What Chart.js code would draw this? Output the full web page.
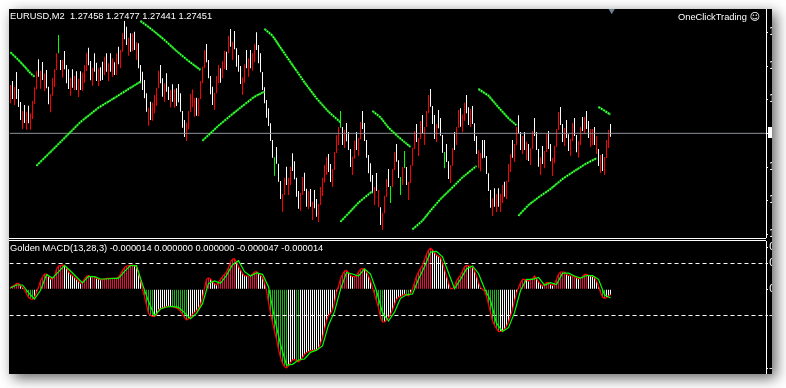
<!DOCTYPE html>
<html lang="en">
  <head>
    <meta charset="UTF-8" />
    <title>EURUSD,M2</title>
    <script src="https://cdn.jsdelivr.net/npm/chart.js"></script>
    <style>
      html, body { margin: 0; background: #fff; overflow: hidden; }
      #terminal {
        position: absolute; left: 9px; top: 9px; width: 763px; height: 365px;
        background: #000; box-shadow: 4px 4px 13px rgba(0, 0, 0, 0.62);
      }
      canvas { position: absolute; left: 0; }
      #mainChart { top: 0; }
      #macdChart { top: 232px; }
      .rule { position: absolute; left: 0; width: 757px; height: 1px; background: #fff; }
      .label { position: absolute; color: #fff; white-space: pre; font: 9.3px "Liberation Sans", sans-serif; line-height: 12px; }
    </style>
  </head>
  <body>
    <div id="terminal">
      <canvas id="mainChart" width="763" height="229"></canvas>
      <div class="rule" style="top: 229px"></div>
      <div class="rule" style="top: 231px"></div>
      <canvas id="macdChart" width="763" height="133"></canvas>
      <div class="label" style="left: 1px; top: 1px">EURUSD,M2  1.27458 1.27477 1.27441 1.27451</div>
      <div class="label" style="left: 669px; top: 2px">OneClickTrading <span style="font: 10px 'DejaVu Sans'">☺</span></div>
      <div class="label" style="left: 1px; top: 233px">Golden MACD(13,28,3) -0.000014 0.000000 0.000000 -0.000047 -0.000014</div>
    </div>

    <script>
      // prices are kept in points above 1.27000 (451 = 1.27451)
      const highs = [
        596,608,591,635,584,545,518,536,516,534, 511,548,589,637,673,639,665,631,641,591,
        568,617,644,691,746,671,671,698,656,643, 618,643,623,637,614,637,633,656,693,708,
        668,648,691,663,646,649,666,681,691,661, 691,676,664,691,711,701,751,788,771,738,
        751,751,756,724,721,656,636,611,571,528, 546,543,566,588,639,656,616,601,631,591,
        581,598,583,586,599,571,518,491,483,518, 569,583,556,558,556,608,651,701,719,671,
        623,591,573,623,656,646,668,698,696,744, 764,726,758,706,686,653,619,658,701,676,
        701,691,718,754,716,691,635,589,551,526, 481,431,379,410,360,308,269,318,351,318,
        351,391,367,318,278,273,320,333,285,279, 284,246,281,254,239,290,318,356,380,389,
        359,344,395,445,470,518,470,461,482,455, 404,381,429,455,437,485,518,482,431,386,
        361,326,290,332,281,229,213,264,314,344, 293,344,395,419,370,320,350,398,350,305,
        356,408,458,479,437,488,506,470,518,566, 584,533,506,479,521,497,446,395,419,367,
        356,406,455,470,521,526,508,543,566,529, 524,533,481,443,400,391,431,431,383,331,
        281,256,286,269,286,269,296,306,308,359, 389,431,419,470,505,455,443,455,426,419,
        406,458,497,455,404,379,413,398,449,458, 419,377,413,464,515,530,479,467,491,448,
        434,482,497,446,428,470,500,500,518,488, 464,464,470,443,404,386,389,380,431,461,479
      ];
      const lows = [
        541,554,536,554,530,491,464,482,462,481, 462,494,539,583,621,585,611,577,586,538,
        514,564,591,641,691,641,618,643,601,584, 564,588,581,581,560,581,579,602,638,655,
        610,594,636,608,593,609,611,626,636,608, 636,621,626,626,658,646,696,733,716,684,
        696,698,701,671,646,601,581,556,516,474, 491,489,511,534,586,601,561,546,576,551,
        529,546,528,533,544,516,468,440,428,463, 514,529,501,504,503,554,601,646,664,616,
        568,536,521,571,601,603,616,644,641,691, 711,671,703,651,636,599,566,603,646,621,
        646,639,664,701,661,634,581,541,498,473, 428,378,324,360,306,254,216,266,296,266,
        296,338,313,261,225,219,267,278,231,224, 231,191,226,201,185,236,263,303,326,335,
        305,290,341,392,416,468,416,407,427,401, 350,326,375,401,383,433,464,428,378,331,
        306,271,236,278,229,176,161,211,260,290, 242,290,341,366,317,266,296,346,296,251,
        302,354,404,425,383,434,452,416,470,512, 531,479,434,425,466,444,393,346,365,314,
        302,354,401,416,468,471,454,489,511,476, 470,479,428,389,346,337,376,378,329,278,
        228,203,231,215,231,215,242,261,254,305, 335,378,365,416,451,401,389,401,371,368,
        356,404,443,401,351,326,359,346,395,404, 367,323,361,411,461,476,425,413,437,398,
        384,428,443,394,378,416,458,449,464,437, 410,416,416,389,353,332,338,326,377,407,441
      ];
      // r = down bar, w = up bar, g = the odd green bars
      const barKinds = [
        "rwrwwwrwrw","rrrrwrwrww","rrrrgwrwww","rwrwrwrrrw","wrwwrwwrwr","wrwrwrrwwr",
        "wrwrwwwwwr","wrrrrwwrww","rwrwwwwwrr","rrrwrrrrww","wwrrrwrrwr","wrwwwwrrwr",
        "wrrwwwwwww","wwgwwwrrwr","rwwwwrrwwr","wrwwrrrrrw","wrrrrgwrww","wrrwrrwwww",
        "wwrwrwrrrw","grrwwgrgwr","rrrwrrwrrr","wwwrwwwgww","rrwrrwrrww","rwwwrrwwww",
        "wrwrwrrwrr","rwrrwwrwrw","rrwwwrwrrw","wrrrrwwrww","rrwwrrwrww","rrwrwrwrrrw"
      ].join("");

      // indicator arcs, [bar, points]
      const arcA = [[0,694],[4,671],[8,645],[10,631],[12,621]];
      const arcB = [[13,354],[21,401],[29,449],[35,485],[44,528],[53,561],[59,584],[65,606]];
      const arcC = [[65,788],[71,761],[77,731],[83,698],[89,668],[95,641]];
      const arcD = [[96,429],[104,474],[110,504],[116,533],[122,561],[127,576]];
      const arcE = [[127,764],[131,744],[135,708],[141,656],[147,604],[153,556],[159,516],[165,484]];
      const arcF = [[165,186],[169,211],[174,243],[180,273],[181,276]];
      const arcG = [[181,518],[185,499],[189,468],[194,440],[200,410]];
      const arcH = [[201,163],[206,189],[210,219],[215,254],[221,289],[226,319],[233,353]];
      const arcI = [[234,584],[239,564],[244,529],[249,496],[253,475]];
      const arcJ = [[254,204],[259,236],[264,259],[270,284],[276,314],[282,338],[288,361],[293,376]];
      const arcK = [[294,530],[297,519],[300,507]];
      const arcs = [arcA, arcB, arcC, arcD, arcE, arcF, arcG, arcH, arcI, arcJ, arcK];

      const lastPrice = 451;
      const priceTicks = [754, 653, 553, 451, 349, 250, 148];

      // MACD in millionths
      const macdHist = [
        12,18,24,36,36,22,12,-4,-26,-48, -58,-60,-48,-18,12,52,74,92,92,82,
        62,66,74,122,140,142,146,142,130,106, 90,82,70,60,50,36,46,62,78,82,
        76,76,76,66,62,56,58,62,66,66, 66,66,66,66,74,92,112,132,140,142,
        144,146,142,136,96,56,2,-44,-94,-144, -156,-162,-162,-154,-124,-116,-112,-108,-104,-102,
        -102,-104,-108,-112,-120,-132,-148,-168,-184,-176, -166,-150,-138,-128,-114,-90,-50,6,60,68,
        62,46,34,26,44,60,76,90,104,130, 164,180,184,164,136,116,96,82,80,80,
        84,92,104,106,96,84,70,40,-10,-80, -144,-200,-250,-300,-360,-410,-444,-464,-472,-460,
        -440,-424,-420,-428,-436,-424,-410,-390,-380,-374, -368,-366,-364,-364,-356,-324,-290,-240,-190,-156,
        -144,-124,-80,-20,20,64,90,110,114,100, 84,76,76,84,104,120,126,120,104,80,
        50,10,-30,-70,-110,-170,-196,-196,-184,-170, -150,-124,-90,-60,-48,-44,-36,-30,-32,-40,
        -24,4,40,80,104,126,144,180,210,236, 248,236,220,206,200,190,160,120,80,40,
        4,4,20,50,70,84,110,136,144,140, 140,136,110,80,40,10,0,-10,-44,-90,
        -140,-190,-216,-236,-254,-252,-250,-240,-220,-196, -160,-120,-70,-24,10,40,60,60,56,50,
        60,64,80,64,46,30,20,30,40,40, 30,24,34,60,90,104,104,104,90,84,
        80,80,80,70,64,66,76,90,90,84, 80,78,70,50,20,-20,-46,-54,-50,-40,-32
      ];
      // signal line, read every third bar
      const macdSignal = [
        [0,8],[3,26],[6,26],[9,-20],[12,-58],[15,-6],[18,88],[21,68],[24,105],[27,144],
        [30,110],[33,74],[36,38],[39,78],[42,76],[45,62],[48,62],[51,66],[54,66],[57,108],
        [60,143],[63,142],[66,30],[69,-72],[72,-158],[75,-118],[78,-106],[81,-102],[84,-108],[87,-140],
        [90,-176],[93,-144],[96,-86],[99,36],[102,50],[105,36],[108,84],[111,148],[114,172],[117,106],
        [120,80],[123,98],[126,90],[129,16],[132,-172],[135,-330],[138,-454],[141,-450],[144,-424],[147,-418],
        [150,-378],[153,-365],[156,-340],[159,-215],[162,-134],[165,0],[168,100],[171,92],[174,80],[177,123],
        [180,92],[183,-10],[186,-140],[189,-190],[192,-137],[195,-54],[198,-33],[201,-28],[204,60],[207,135],
        [210,223],[213,228],[216,195],[219,100],[222,4],[225,60],[228,123],[231,140],[234,95],[237,5],
        [240,-67],[243,-203],[246,-253],[249,-230],[252,-140],[255,-7],[258,60],[261,60],[264,72],[267,25],
        [270,40],[273,29],[276,97],[279,97],[282,80],[285,67],[288,83],[291,82],[294,60],[297,-33],[300,-52]
      ];
      const macdLevels = [155, -157];
      const macdTicks = [250, 155, 0, -157, -474];

      const BAR_COLORS = { r: "#ff0000", w: "#ffffff", g: "#00ff00" };
      const toXY = (pairs) => pairs.map(([x, y]) => ({ x, y }));
      const X_MIN = -0.5;
      const X_MAX = 377.75;

      function xAxis() {
        return { type: "linear", display: false, offset: false, min: X_MIN, max: X_MAX };
      }

      function yAxis(min, max, tickValues, label) {
        return {
          position: "right",
          min,
          max,
          border: { color: "#fff" },
          grid: { drawOnChartArea: false, color: "#fff", tickLength: 2 },
          ticks: { color: "#fff", padding: 1, autoSkip: false, font: { family: "DejaVu Sans", size: 10 }, callback: label },
          afterBuildTicks: (s) => { s.ticks = tickValues.map((value) => ({ value })); },
          afterFit: (s) => { s.width = 6; s.paddingTop = 0; s.paddingBottom = 0; },
        };
      }

      function flat(v) {
        return { type: "line", data: [{ x: X_MIN, y: v }, { x: X_MAX, y: v }], pointRadius: 0 };
      }

      const baseOptions = {
        responsive: false,
        animation: false,
        events: [],
        layout: { autoPadding: false, padding: { left: 0.5 } },
        plugins: { legend: { display: false }, tooltip: { enabled: false } },
      };

      // white price tag sticking out of the axis
      const priceTag = {
        id: "priceTag",
        afterDraw(chart) {
          const y = chart.scales.y.getPixelForValue(lastPrice);
          chart.ctx.fillStyle = "#fff";
          chart.ctx.fillRect(759, Math.round(y) - 6, 4, 11);
        },
      };

      new Chart(document.getElementById("mainChart"), {
        type: "bar",
        data: {
          datasets: [
            {
              data: highs.map((h, i) => ({ x: i, y: [lows[i], h] })),
              backgroundColor: [...barKinds].map((k) => BAR_COLORS[k]),
              barThickness: 1,
              inflateAmount: 0,
              grouped: false,
              order: 5,
            },
            { ...flat(lastPrice), borderColor: "#8d919b", borderWidth: 1, order: 4 },
            ...arcs.map((arc) => ({
              type: "line", data: toXY(arc), borderColor: "#0ce80c", borderWidth: 2.2, borderDash: [2.2, 0.5], pointRadius: 0, order: 2,
            })),
            ...arcs.map((arc) => ({
              type: "line", data: toXY(arc), borderColor: "#d8ffd8", borderWidth: 1, borderDash: [1, 2], pointRadius: 0, order: 1,
            })),
            {
              type: "line",
              data: [{ x: 300.6, y: 820 }],
              pointStyle: "triangle",
              rotation: 180,
              pointRadius: 4,
              pointBackgroundColor: "#6f7f8f",
              pointBorderWidth: 0,
              order: 0,
            },
          ],
        },
        options: {
          ...baseOptions,
          scales: {
            x: xAxis(),
            y: yAxis(137, 824, priceTicks, (v) => (1.27 + v / 100000).toFixed(5)),
          },
        },
        plugins: [priceTag],
      });

      new Chart(document.getElementById("macdChart"), {
        type: "bar",
        data: {
          datasets: [
            {
              data: macdHist.map((v, i) => ({ x: i, y: v })),
              backgroundColor: macdHist.map((v, i) => {
                const rising = i === 0 || v >= macdHist[i - 1];
                if (v >= 0) return rising ? "#dc143c" : "#ffffff";
                return rising ? "#ffffff" : "#20b020";
              }),
              barThickness: 1,
              inflateAmount: 0,
              grouped: false,
              order: 5,
            },
            ...macdLevels.map((v) => ({ ...flat(v), borderColor: "#fff", borderWidth: 1, borderDash: [4, 3], order: 4 })),
            {
              type: "line",
              data: macdHist.map((v, i) => ({ x: i, y: v })),
              borderColor: "#ff0000",
              borderWidth: 1.2,
              pointRadius: 0,
              order: 2,
            },
            {
              type: "line",
              data: toXY(macdSignal),
              borderColor: "#00ff00",
              borderWidth: 1.2,
              pointRadius: 0,
              order: 1,
            },
          ],
        },
        options: {
          ...baseOptions,
          scales: {
            x: xAxis(),
            y: yAxis(-508, 290, macdTicks, (v) => (v / 1000000).toFixed(6)),
          },
        },
      });
    </script>
  </body>
</html>
